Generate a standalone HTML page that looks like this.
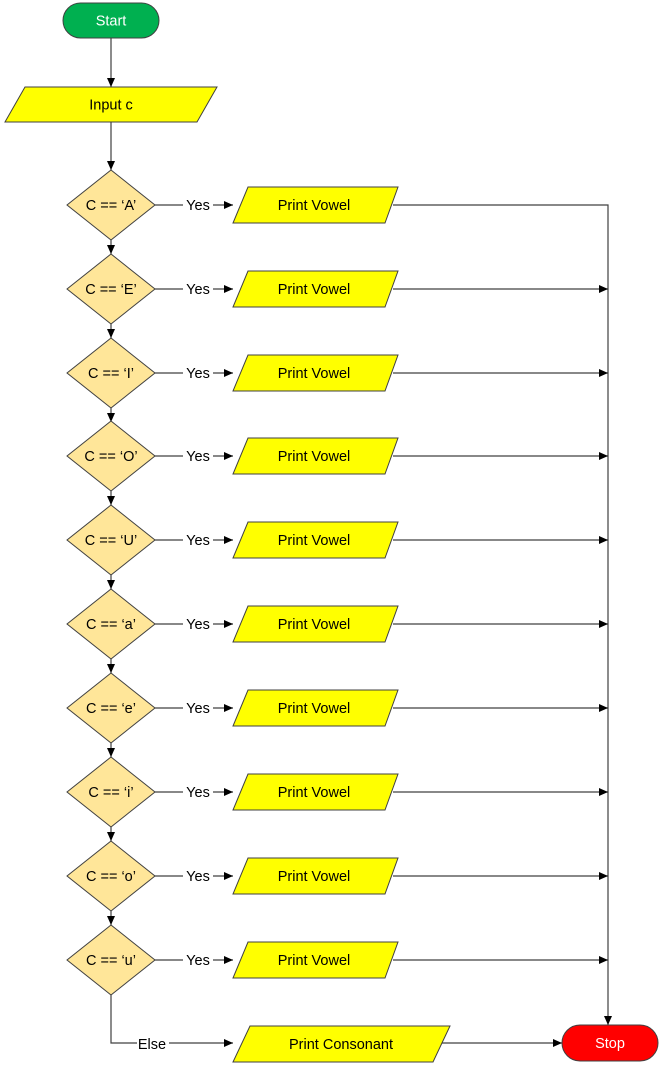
<!DOCTYPE html>
<html><head><meta charset="utf-8"><style>
html,body{margin:0;padding:0;background:#fff;}
svg{display:block;}
text{font-family:"Liberation Sans",sans-serif;font-size:14.5px;fill:#000;}
.l{stroke:#404040;stroke-width:1.2;fill:none;}
.d{fill:#ffe699;stroke:#404040;stroke-width:1;}
.p{fill:#ffff00;stroke:#404040;stroke-width:1;}
.w{fill:#fff;}
</style></head><body>
<svg width="663" height="1070" viewBox="0 0 663 1070" xmlns="http://www.w3.org/2000/svg">
<defs>
<marker id="a" markerWidth="10" markerHeight="10" refX="9" refY="4" orient="auto" markerUnits="userSpaceOnUse">
<path d="M0,0 L9,4 L0,8 Z" fill="#000"/>
</marker>
<g id="pv"><polygon class="p" points="248,-18 398,-18 385,18 233,18"/><text x="314" y="5" text-anchor="middle">Print Vowel</text></g>
<g id="yes"><line class="l" x1="155" y1="0" x2="233" y2="0" marker-end="url(#a)"/><rect class="w" x="183" y="-8" width="30" height="16"/><text x="198" y="5" text-anchor="middle">Yes</text></g>
<g id="out"><line class="l" x1="393" y1="0" x2="608" y2="0" marker-end="url(#a)"/></g>
<g id="down"><line class="l" x1="111" y1="35" x2="111" y2="49" marker-end="url(#a)"/></g>
<polygon id="dm" class="d" points="111,-35 155,0 111,35 67,0"/>
</defs>
<line class="l" x1="111" y1="38" x2="111" y2="87" marker-end="url(#a)"/>
<line class="l" x1="111" y1="122" x2="111" y2="170" marker-end="url(#a)"/>
<path class="l" d="M111,994 L111,1043 L233,1043" marker-end="url(#a)"/>
<line class="l" x1="441" y1="1043" x2="562" y2="1043" marker-end="url(#a)"/>
<path class="l" d="M393,205 L608,205 L608,1025" marker-end="url(#a)"/>
<rect x="63" y="3" width="96" height="35" rx="17.5" fill="#00b050" stroke="#404040" stroke-width="1"/>
<text x="111" y="25.5" text-anchor="middle" style="fill:#fff">Start</text>
<polygon class="p" points="25,87 217,87 197,122 5,122"/>
<text x="111" y="109.5" text-anchor="middle">Input c</text>

<g transform="translate(0,205)"><use href="#down"/><use href="#yes"/><use href="#pv"/><use href="#dm"/><text x="111" y="5" text-anchor="middle">C == ‘A’</text></g>
<g transform="translate(0,289)"><use href="#down"/><use href="#yes"/><use href="#out"/><use href="#pv"/><use href="#dm"/><text x="111" y="5" text-anchor="middle">C == ‘E’</text></g>
<g transform="translate(0,373)"><use href="#down"/><use href="#yes"/><use href="#out"/><use href="#pv"/><use href="#dm"/><text x="111" y="5" text-anchor="middle">C == ‘I’</text></g>
<g transform="translate(0,456)"><use href="#down"/><use href="#yes"/><use href="#out"/><use href="#pv"/><use href="#dm"/><text x="111" y="5" text-anchor="middle">C == ‘O’</text></g>
<g transform="translate(0,540)"><use href="#down"/><use href="#yes"/><use href="#out"/><use href="#pv"/><use href="#dm"/><text x="111" y="5" text-anchor="middle">C == ‘U’</text></g>
<g transform="translate(0,624)"><use href="#down"/><use href="#yes"/><use href="#out"/><use href="#pv"/><use href="#dm"/><text x="111" y="5" text-anchor="middle">C == ‘a’</text></g>
<g transform="translate(0,708)"><use href="#down"/><use href="#yes"/><use href="#out"/><use href="#pv"/><use href="#dm"/><text x="111" y="5" text-anchor="middle">C == ‘e’</text></g>
<g transform="translate(0,792)"><use href="#down"/><use href="#yes"/><use href="#out"/><use href="#pv"/><use href="#dm"/><text x="111" y="5" text-anchor="middle">C == ‘i’</text></g>
<g transform="translate(0,876)"><use href="#down"/><use href="#yes"/><use href="#out"/><use href="#pv"/><use href="#dm"/><text x="111" y="5" text-anchor="middle">C == ‘o’</text></g>
<g transform="translate(0,960)"><use href="#yes"/><use href="#out"/><use href="#pv"/><use href="#dm"/><text x="111" y="5" text-anchor="middle">C == ‘u’</text></g>

<rect x="562" y="1025" width="96" height="36" rx="18" fill="#ff0000" stroke="#404040" stroke-width="1"/>
<text x="610" y="1048" text-anchor="middle" style="fill:#fff">Stop</text>
<polygon class="p" points="250,1026 450,1026 433,1062 233,1062"/>
<text x="341" y="1049" text-anchor="middle">Print Consonant</text>
<rect class="w" x="137" y="1035" width="32" height="16"/>
<text x="152" y="1049" text-anchor="middle">Else</text>
</svg>
</body></html>
